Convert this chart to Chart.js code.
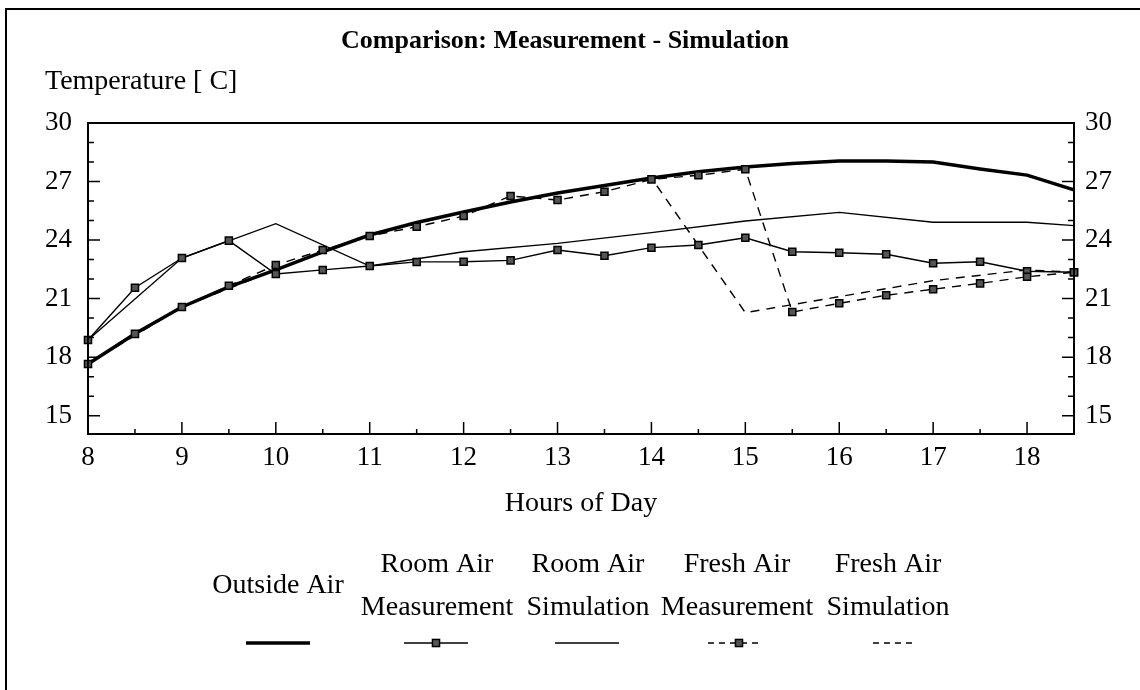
<!DOCTYPE html>
<html>
<head>
<meta charset="utf-8">
<title>Comparison: Measurement - Simulation</title>
<script src="https://cdn.jsdelivr.net/npm/chart.js@4.4.1/dist/chart.umd.min.js"></script>
<style>
  body { margin: 0; background: #fff; }
  #wrap { width: 1140px; height: 690px; }
</style>
</head>
<body>
<div id="wrap"><canvas id="tempChart" width="1140" height="690"></canvas></div>
<script>
const hours = [8, 8.5, 9, 9.5, 10, 10.5, 11, 11.5, 12, 12.5, 13, 13.5, 14, 14.5, 15, 15.5, 16, 16.5, 17, 17.5, 18, 18.5];
const simHours = [8, 9, 10, 11, 12, 13, 14, 15, 16, 17, 18, 18.5];

const outsideAir = [17.65, 19.2, 20.57, 21.6, 22.47, 23.4, 24.26, 24.9, 25.44, 25.95, 26.41, 26.8, 27.18, 27.5, 27.74, 27.92, 28.05, 28.05, 28.0, 27.64, 27.33, 26.57];
const roomAirMeas = [18.88, 21.56, 23.08, 23.97, 22.26, 22.47, 22.67, 22.88, 22.89, 22.96, 23.49, 23.2, 23.61, 23.75, 24.12, 23.4, 23.35, 23.27, 22.81, 22.89, 22.4, 22.35];
const freshAirMeas = [17.65, 19.19, 20.57, 21.66, 22.72, 23.49, 24.21, 24.68, 25.23, 26.26, 26.05, 26.48, 27.11, 27.32, 27.63, 20.31, 20.76, 21.17, 21.48, 21.78, 22.12, 22.35];
const roomAirSim = [18.88, 23.08, 24.84, 22.67, 23.4, 23.83, 24.38, 24.98, 25.42, 24.91, 24.91, 24.74];
const freshAirSim = [17.65, 20.57, 22.47, 24.26, 25.44, 26.41, 27.18, 20.28, 21.1, 21.92, 22.47, 22.35];

const xTicks = [8, 9, 10, 11, 12, 13, 14, 15, 16, 17, 18];
const yTicks = [15, 18, 21, 24, 27, 30];

const serif = "'Liberation Serif', 'Times New Roman', serif";

function pts(xs, ys) {
  return xs.map((x, i) => ({ x: x, y: ys[i] }));
}

// Rahmen, Titel, Achsenbeschriftung, Ticks nach innen und Legende
const decor = {
  id: 'decor',
  afterDraw(chart) {
    const ctx = chart.ctx;
    const a = chart.chartArea;
    const sx = chart.scales.x;
    const sy = chart.scales.y;
    ctx.save();
    ctx.strokeStyle = '#000';
    ctx.fillStyle = '#000';

    // aeusserer Rahmen
    ctx.lineWidth = 2;
    ctx.beginPath();
    ctx.moveTo(6, 690);
    ctx.lineTo(6, 9);
    ctx.lineTo(1140, 9);
    ctx.stroke();

    // Plotrahmen
    ctx.lineWidth = 2;
    ctx.strokeRect(a.left, a.top, a.right - a.left, a.bottom - a.top);

    // x-Ticks
    ctx.lineWidth = 1.5;
    ctx.beginPath();
    for (let v = sx.min; v <= sx.max + 0.001; v += 0.5) {
      const px = sx.getPixelForValue(v);
      const len = Number.isInteger(v) ? 12 : 5;
      ctx.moveTo(px, a.bottom);
      ctx.lineTo(px, a.bottom - len);
    }
    // y-Ticks links und rechts
    for (let v = Math.ceil(sy.min); v <= sy.max; v += 1) {
      const py = sy.getPixelForValue(v);
      const len = yTicks.includes(v) ? 12 : 6;
      ctx.moveTo(a.left, py);
      ctx.lineTo(a.left + len, py);
      ctx.moveTo(a.right, py);
      ctx.lineTo(a.right - len, py);
    }
    ctx.stroke();

    // Texte
    ctx.textAlign = 'center';
    ctx.textBaseline = 'alphabetic';
    ctx.font = 'bold 26px ' + serif;
    ctx.fillText('Comparison: Measurement - Simulation', 565, 48);
    ctx.font = '28px ' + serif;
    ctx.textAlign = 'left';
    ctx.fillText('Temperature [ C]', 45, 89);
    ctx.textAlign = 'center';
    ctx.fillText('Hours of Day', (a.left + a.right) / 2, 511);

    // Legende
    const colX = [278, 437, 588, 737, 888];
    const sampleX = [278, 436, 587, 735, 894];
    const sampleW = [64, 64, 64, 54, 42];
    const sampleY = 643;
    chart.data.datasets.forEach((ds, i) => {
      const cx = colX[i];
      const lines = Array.isArray(ds.label) ? ds.label : [ds.label];
      ctx.font = '28px ' + serif;
      ctx.textAlign = 'center';
      if (lines.length === 1) {
        ctx.fillText(lines[0], cx, 593);
      } else {
        ctx.fillText(lines[0], cx, 572);
        ctx.fillText(lines[1], cx, 615);
      }
      const sx0 = sampleX[i];
      const w = sampleW[i];
      ctx.lineWidth = ds.borderWidth;
      ctx.setLineDash(ds.borderDash ? [6, 5] : []);
      ctx.beginPath();
      ctx.moveTo(sx0 - w / 2, sampleY);
      ctx.lineTo(sx0 + w / 2, sampleY);
      ctx.stroke();
      ctx.setLineDash([]);
      if (ds.pointRadius > 0) {
        const s = ds.pointRadius * Math.SQRT1_2;
        const mx = sx0 + (ds.borderDash ? 4 : 0);
        ctx.fillStyle = ds.pointBackgroundColor;
        ctx.fillRect(mx - s, sampleY - s, 2 * s, 2 * s);
        ctx.lineWidth = 1.5;
        ctx.strokeRect(mx - s, sampleY - s, 2 * s, 2 * s);
        ctx.fillStyle = '#000';
      }
    });
    ctx.restore();
  }
};

const ctx = document.getElementById('tempChart').getContext('2d');

new Chart(ctx, {
  type: 'line',
  data: {
    datasets: [
      {
        label: 'Outside Air',
        data: pts(hours, outsideAir),
        borderColor: '#000',
        borderWidth: 3.5,
        pointRadius: 0,
        order: 5
      },
      {
        label: ['Room Air', 'Measurement'],
        data: pts(hours, roomAirMeas),
        borderColor: '#000',
        borderWidth: 1.4,
        pointStyle: 'rect',
        pointRadius: 5,
        pointBackgroundColor: '#555',
        pointBorderColor: '#000',
        pointBorderWidth: 1.5,
        order: 2
      },
      {
        label: ['Room Air', 'Simulation'],
        data: pts(simHours, roomAirSim),
        borderColor: '#000',
        borderWidth: 1.4,
        pointRadius: 0,
        order: 3
      },
      {
        label: ['Fresh Air', 'Measurement'],
        data: pts(hours, freshAirMeas),
        borderColor: '#000',
        borderWidth: 1.4,
        borderDash: [9, 7],
        pointStyle: 'rect',
        pointRadius: 5,
        pointBackgroundColor: '#555',
        pointBorderColor: '#000',
        pointBorderWidth: 1.5,
        order: 1
      },
      {
        label: ['Fresh Air', 'Simulation'],
        data: pts(simHours, freshAirSim),
        borderColor: '#000',
        borderWidth: 1.4,
        borderDash: [9, 7],
        pointRadius: 0,
        order: 4
      }
    ]
  },
  options: {
    responsive: false,
    animation: false,
    clip: 8,
    layout: { padding: { top: 123, left: 0, right: 0, bottom: 0 } },
    plugins: {
      legend: { display: false },
      title: { display: false },
      tooltip: { enabled: false }
    },
    scales: {
      x: {
        type: 'linear',
        position: 'bottom',
        min: 8,
        max: 18.5,
        afterBuildTicks: s => { s.ticks = xTicks.map(v => ({ value: v })); },
        afterFit: s => { s.height = 256; },
        grid: { display: false, drawTicks: false },
        border: { display: false },
        ticks: { color: '#000', font: { family: serif, size: 27 }, padding: 8, maxRotation: 0, autoSkip: false }
      },
      y: {
        position: 'left',
        min: 14.06,
        max: 30,
        afterBuildTicks: s => { s.ticks = yTicks.map(v => ({ value: v })); },
        afterFit: s => { s.width = 88; },
        grid: { display: false, drawTicks: false },
        border: { display: false },
        ticks: { color: '#000', font: { family: serif, size: 27 }, padding: 16 }
      },
      y2: {
        position: 'right',
        min: 14.06,
        max: 30,
        afterBuildTicks: s => { s.ticks = yTicks.map(v => ({ value: v })); },
        afterFit: s => { s.width = 66; },
        grid: { display: false, drawTicks: false },
        border: { display: false },
        ticks: { color: '#000', font: { family: serif, size: 27 }, padding: 11 }
      }
    }
  },
  plugins: [decor]
});
</script>
</body>
</html>
